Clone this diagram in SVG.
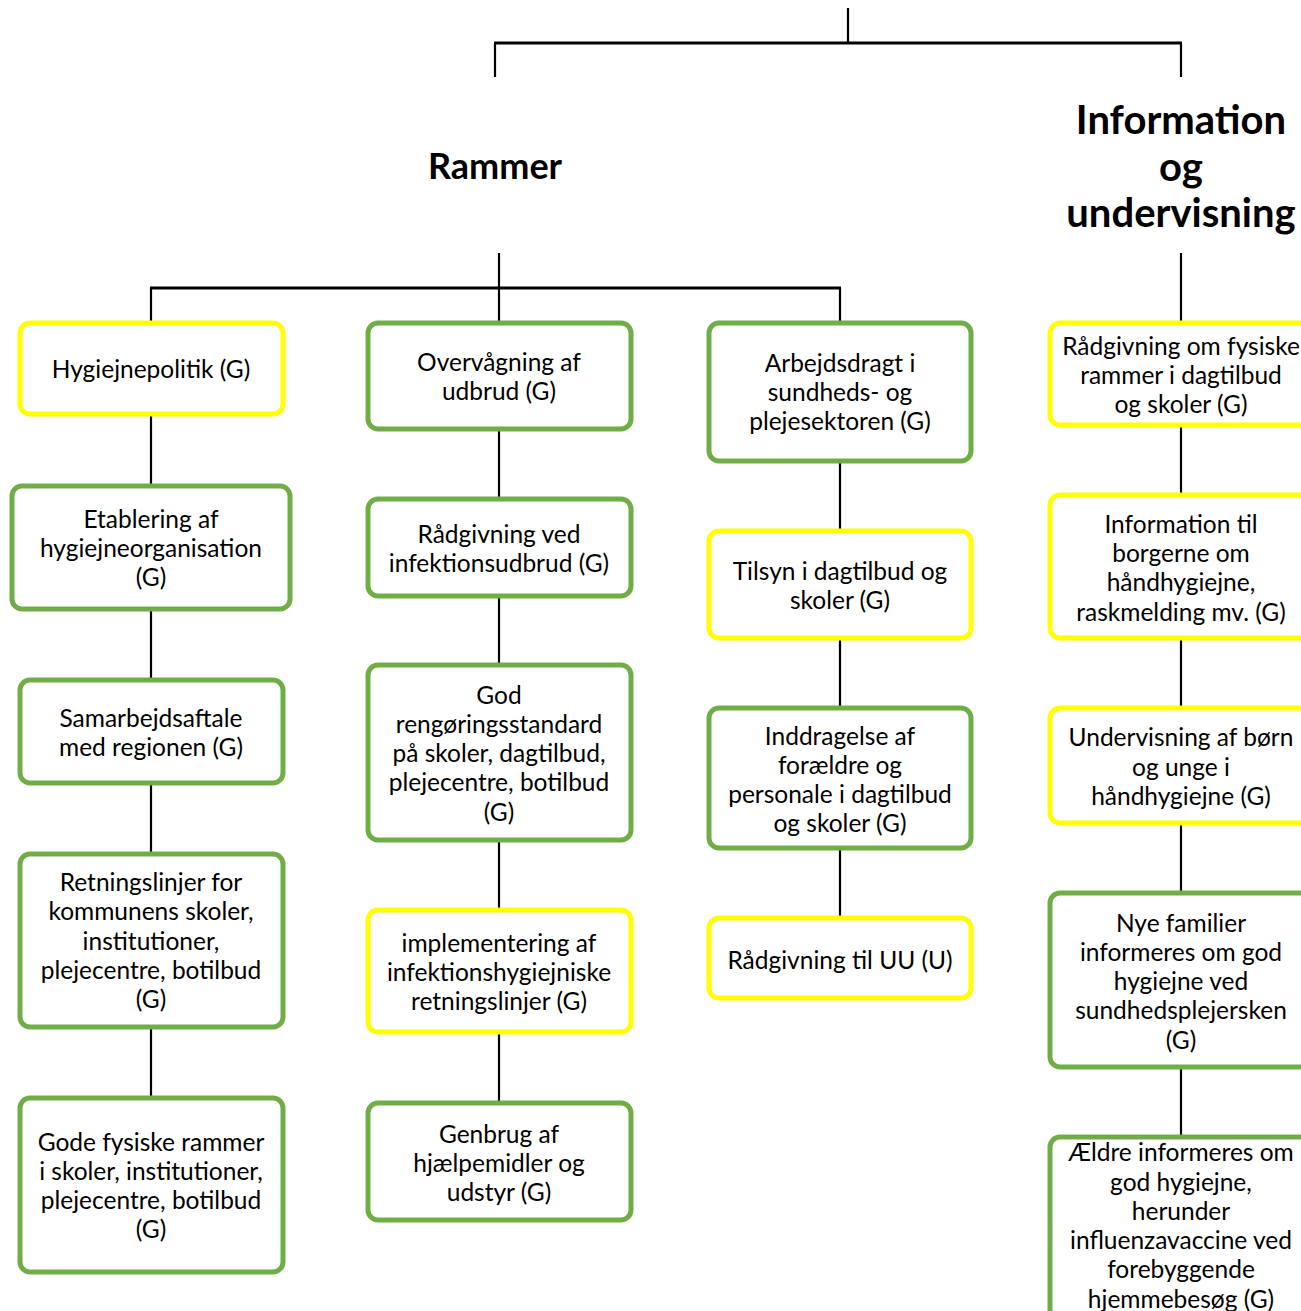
<svg xmlns="http://www.w3.org/2000/svg" width="1301" height="1311" viewBox="0 0 1301 1311">
<style>
.bg{fill:#ffffff}
.box rect{fill:#ffffff;stroke-width:5}
.y rect{stroke:#FFFF00}
.g rect{stroke:#70AD47}
text{font-family:Lato,"Liberation Sans",sans-serif;font-size:24.5px;fill:#000;text-anchor:middle;dominant-baseline:central}
.h{font-weight:bold;font-size:40px}
.r{font-size:36px}
.c line{stroke:#000;stroke-width:2.2}
</style>
<rect class="bg" x="0" y="0" width="1301" height="1311"/>
<g id="connectors" class="c">
<line x1="848" y1="8" x2="848" y2="43"/>
<line x1="494" y1="43" x2="1182" y2="43" style="stroke-width:3"/>
<line x1="495" y1="43" x2="495" y2="77"/>
<line x1="1181" y1="43" x2="1181" y2="77"/>
<line x1="499" y1="253" x2="499" y2="288"/>
<line x1="150" y1="288" x2="841" y2="288" style="stroke-width:3"/>
<line x1="151" y1="288" x2="151" y2="322"/>
<line x1="499" y1="288" x2="499" y2="322"/>
<line x1="840" y1="288" x2="840" y2="322"/>
<line x1="1181" y1="253" x2="1181" y2="322"/>
<line x1="151" y1="414" x2="151" y2="486"/>
<line x1="151" y1="609" x2="151" y2="680"/>
<line x1="151" y1="783" x2="151" y2="854"/>
<line x1="151" y1="1027" x2="151" y2="1098"/>
<line x1="499" y1="429" x2="499" y2="499"/>
<line x1="499" y1="596" x2="499" y2="665"/>
<line x1="499" y1="840" x2="499" y2="910"/>
<line x1="499" y1="1032" x2="499" y2="1103"/>
<line x1="840" y1="461" x2="840" y2="531"/>
<line x1="840" y1="638" x2="840" y2="708"/>
<line x1="840" y1="848" x2="840" y2="918"/>
<line x1="1181" y1="425" x2="1181" y2="495"/>
<line x1="1181" y1="638" x2="1181" y2="708"/>
<line x1="1181" y1="823" x2="1181" y2="893"/>
<line x1="1181" y1="1067" x2="1181" y2="1137"/>
</g>
<g id="rammer"><text class="h r" x="495" y="165">Rammer</text></g>
<g id="info"><text class="h" x="1181" y="119">Information</text><text class="h" x="1181" y="166">og</text><text class="h" x="1181" y="212">undervisning</text></g>

<g id="n1" class="box y"><rect x="20" y="323" width="263" height="91" rx="10"/><text x="151" y="368">Hygiejnepolitik (G)</text></g>
<g id="n2" class="box g"><rect x="12" y="486" width="278" height="123" rx="10"/><text x="151" y="518">Etablering af</text><text x="151" y="547">hygiejneorganisation</text><text x="151" y="576">(G)</text></g>
<g id="n3" class="box g"><rect x="20" y="680" width="263" height="103" rx="10"/><text x="151" y="717">Samarbejdsaftale</text><text x="151" y="746">med regionen (G)</text></g>
<g id="n4" class="box g"><rect x="20" y="854" width="263" height="173" rx="10"/><text x="151" y="881">Retningslinjer for</text><text x="151" y="910">kommunens skoler,</text><text x="151" y="940">institutioner,</text><text x="151" y="969">plejecentre, botilbud</text><text x="151" y="998">(G)</text></g>
<g id="n5" class="box g"><rect x="20" y="1098" width="263" height="174" rx="10"/><text x="151" y="1141">Gode fysiske rammer</text><text x="151" y="1170">i skoler, institutioner,</text><text x="151" y="1199">plejecentre, botilbud</text><text x="151" y="1228">(G)</text></g>

<g id="n6" class="box g"><rect x="368" y="323" width="263" height="106" rx="10"/><text x="499" y="361">Overvågning af</text><text x="499" y="390">udbrud (G)</text></g>
<g id="n7" class="box g"><rect x="368" y="499" width="263" height="97" rx="10"/><text x="499" y="533">Rådgivning ved</text><text x="499" y="562">infektionsudbrud (G)</text></g>
<g id="n8" class="box g"><rect x="368" y="665" width="263" height="175" rx="10"/><text x="499" y="694">God</text><text x="499" y="723">rengøringsstandard</text><text x="499" y="752">på skoler, dagtilbud,</text><text x="499" y="781">plejecentre, botilbud</text><text x="499" y="811">(G)</text></g>
<g id="n9" class="box y"><rect x="368" y="910" width="263" height="122" rx="10"/><text x="499" y="942">implementering af</text><text x="499" y="971">infektionshygiejniske</text><text x="499" y="1000">retningslinjer (G)</text></g>
<g id="n10" class="box g"><rect x="368" y="1103" width="263" height="117" rx="10"/><text x="499" y="1133">Genbrug af</text><text x="499" y="1162">hjælpemidler og</text><text x="499" y="1191">udstyr (G)</text></g>

<g id="n11" class="box g"><rect x="709" y="323" width="262" height="138" rx="10"/><text x="840" y="362">Arbejdsdragt i</text><text x="840" y="391">sundheds- og</text><text x="840" y="420">plejesektoren (G)</text></g>
<g id="n12" class="box y"><rect x="709" y="531" width="262" height="107" rx="10"/><text x="840" y="570">Tilsyn i dagtilbud og</text><text x="840" y="599">skoler (G)</text></g>
<g id="n13" class="box g"><rect x="709" y="708" width="262" height="140" rx="10"/><text x="840" y="735">Inddragelse af</text><text x="840" y="764">forældre og</text><text x="840" y="793">personale i dagtilbud</text><text x="840" y="822">og skoler (G)</text></g>
<g id="n14" class="box y"><rect x="709" y="918" width="262" height="80" rx="10"/><text x="840" y="959">Rådgivning til UU (U)</text></g>

<g id="n15" class="box y"><rect x="1050" y="323" width="262" height="102" rx="10"/><text x="1181" y="345">Rådgivning om fysiske</text><text x="1181" y="374">rammer i dagtilbud</text><text x="1181" y="403">og skoler (G)</text></g>
<g id="n16" class="box y"><rect x="1050" y="495" width="262" height="143" rx="10"/><text x="1181" y="523">Information til</text><text x="1181" y="552">borgerne om</text><text x="1181" y="581">håndhygiejne,</text><text x="1181" y="611">raskmelding mv. (G)</text></g>
<g id="n17" class="box y"><rect x="1050" y="708" width="262" height="115" rx="10"/><text x="1181" y="736">Undervisning af børn</text><text x="1181" y="766">og unge i</text><text x="1181" y="795">håndhygiejne (G)</text></g>
<g id="n18" class="box g"><rect x="1050" y="893" width="262" height="174" rx="10"/><text x="1181" y="922">Nye familier</text><text x="1181" y="951">informeres om god</text><text x="1181" y="980">hygiejne ved</text><text x="1181" y="1009">sundhedsplejersken</text><text x="1181" y="1039">(G)</text></g>
<g id="n19" class="box g"><rect x="1050" y="1137" width="262" height="183" rx="10"/><text x="1181" y="1151">Ældre informeres om</text><text x="1181" y="1181">god hygiejne,</text><text x="1181" y="1210">herunder</text><text x="1181" y="1239">influenzavaccine ved</text><text x="1181" y="1268">forebyggende</text><text x="1181" y="1298">hjemmebesøg (G)</text></g>
</svg>
